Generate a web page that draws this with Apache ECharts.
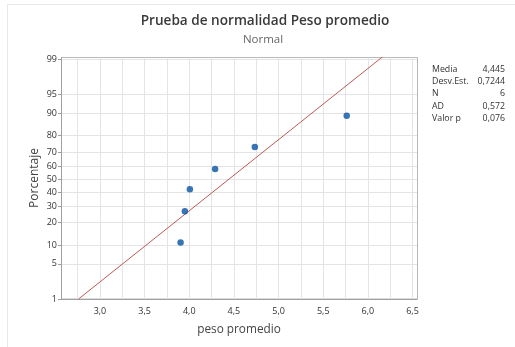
<!DOCTYPE html>
<html>
<head>
<meta charset="utf-8">
<script src="https://cdn.jsdelivr.net/npm/echarts@6/dist/echarts.min.js"></script>
<style>
  html, body { margin: 0; padding: 0; background: #fff; }
  #chart { width: 515px; height: 347px; }
</style>
</head>
<body>
<div id="chart"></div>
<script>
// values
const pesoPromedio = [3.903, 3.951, 4.007, 4.290, 4.734, 5.763];
const porcentaje = [10.9, 26.6, 42.2, 57.8, 73.4, 89.1];

// fitted line end points (x, percent)
const fitX = [2.760, 6.190];
const fitPct = [1, 99.2];

const xTickLabels = [3.0, 3.5, 4.0, 4.5, 5.0, 5.5, 6.0, 6.5];
const xGridValues = [2.75, 3.0, 3.25, 3.5, 3.75, 4.0, 4.25, 4.5, 4.75, 5.0, 5.25, 5.5, 5.75, 6.0, 6.25, 6.5];
const yTickPct = [1, 5, 10, 20, 30, 40, 50, 60, 70, 80, 90, 95, 99];

const statLabels = ['Media', 'Desv.Est.', 'N', 'AD', 'Valor p'];
const statValues = ['4,445', '0,7244', '6', '0,572', '0,076'];

// inverse normal cdf (Acklam) for the probability scale
function probit(p) {
  const a = [-3.969683028665376e+01, 2.209460984245205e+02, -2.759285104469687e+02, 1.383577518672690e+02, -3.066479806614716e+01, 2.506628277459239e+00];
  const b = [-5.447609879822406e+01, 1.615858368580409e+02, -1.556989798598866e+02, 6.680131188771972e+01, -1.328068155288572e+01];
  const c = [-7.784894002430293e-03, -3.223964580411365e-01, -2.400758277161838e+00, -2.549732539343734e+00, 4.374664141464968e+00, 2.938163982698783e+00];
  const d = [7.784695709041462e-03, 3.224671290700398e-01, 2.445134137142996e+00, 3.754408661907416e+00];
  const pl = 0.02425;
  let q, r;
  if (p < pl) {
    q = Math.sqrt(-2 * Math.log(p));
    return (((((c[0] * q + c[1]) * q + c[2]) * q + c[3]) * q + c[4]) * q + c[5]) / ((((d[0] * q + d[1]) * q + d[2]) * q + d[3]) * q + 1);
  } else if (p > 1 - pl) {
    q = Math.sqrt(-2 * Math.log(1 - p));
    return -(((((c[0] * q + c[1]) * q + c[2]) * q + c[3]) * q + c[4]) * q + c[5]) / ((((d[0] * q + d[1]) * q + d[2]) * q + d[3]) * q + 1);
  }
  q = p - 0.5;
  r = q * q;
  return (((((a[0] * r + a[1]) * r + a[2]) * r + a[3]) * r + a[4]) * r + a[5]) * q / (((((b[0] * r + b[1]) * r + b[2]) * r + b[3]) * r + b[4]) * r + 1);
}

const zOf = pct => probit(pct / 100);
const yTickZ = yTickPct.map(zOf);
const comma = v => v.toFixed(1).replace('.', ',');

const font = "'Open Sans', 'Noto Sans', sans-serif";

const chart = echarts.init(document.getElementById('chart'), null, { renderer: 'canvas' });

const statGraphics = [];
statLabels.forEach((lab, i) => {
  const y = 69.5 + i * 12.2;
  statGraphics.push({
    type: 'text', x: 432, y: y,
    style: { text: lab, fontFamily: font, fontSize: 8.8, fill: '#333', textAlign: 'left', textVerticalAlign: 'middle' },
  });
  statGraphics.push({
    type: 'text', x: 505, y: y,
    style: { text: statValues[i], fontFamily: font, fontSize: 8.8, fill: '#333', textAlign: 'right', textVerticalAlign: 'middle' },
  });
});

const option = {
  animation: false,
  backgroundColor: '#fff',
  grid: { left: 61, right: 98, top: 57.5, bottom: 48 },
  xAxis: {
    type: 'value',
    min: 2.564,
    max: 6.55,
    name: 'peso promedio',
    nameLocation: 'middle',
    nameGap: 25,
    nameTextStyle: { fontFamily: font, fontSize: 11.8, color: '#444' },
    axisLine: { show: true, onZero: false, lineStyle: { color: '#a0a0a0' } },
    axisTick: { show: false, customValues: xGridValues },
    axisLabel: {
      customValues: xTickLabels,
      formatter: v => comma(v),
      fontFamily: font, fontSize: 9, color: '#333', margin: 8,
    },
    splitLine: { show: true, lineStyle: { color: '#e4e4e4', width: 1 } },
  },
  yAxis: {
    type: 'value',
    min: zOf(1),
    max: 2.36,
    axisLine: { show: true, onZero: false, lineStyle: { color: '#a0a0a0' } },
    axisTick: { show: true, length: 3, customValues: yTickZ, lineStyle: { color: '#a0a0a0' } },
    axisLabel: {
      customValues: yTickZ,
      formatter: v => {
        let best = 0;
        yTickZ.forEach((z, i) => { if (Math.abs(z - v) < Math.abs(yTickZ[best] - v)) best = i; });
        return String(yTickPct[best]);
      },
      fontFamily: font, fontSize: 9, color: '#333', margin: 4,
    },
    splitLine: { show: true, lineStyle: { color: '#e4e4e4', width: 1 } },
  },
  graphic: [
    {
      type: 'rect', silent: true,
      shape: { x: 7.5, y: 4.5, width: 530, height: 360 },
      style: { fill: 'none', stroke: '#e8e8e8', lineWidth: 1 },
    },
    {
      type: 'rect', silent: true,
      shape: { x: 61.5, y: 57.5, width: 356, height: 241.5 },
      style: { fill: 'none', stroke: '#b8b8b8', lineWidth: 1 },
    },
    {
      type: 'text', x: 265, y: 21,
      style: { text: 'Prueba de normalidad Peso promedio', fontFamily: font, fontSize: 13.6, fontWeight: 600, fill: '#3a3a3a', textAlign: 'center', textVerticalAlign: 'middle' },
    },
    {
      type: 'text', x: 263, y: 39.5,
      style: { text: 'Normal', fontFamily: font, fontSize: 11.5, fill: '#666', textAlign: 'center', textVerticalAlign: 'middle' },
    },
    {
      type: 'text', x: 35, y: 178, rotation: Math.PI / 2,
      style: { text: 'Porcentaje', fontFamily: font, fontSize: 12, fill: '#444', textAlign: 'center', textVerticalAlign: 'middle' },
    },
  ].concat(statGraphics),
  series: [
    {
      type: 'line',
      data: fitX.map((x, i) => [x, zOf(fitPct[i])]),
      symbol: 'none',
      clip: true,
      lineStyle: { color: '#bb5a56', width: 1 },
      z: 2,
    },
    {
      type: 'scatter',
      data: pesoPromedio.map((x, i) => [x, zOf(porcentaje[i])]),
      symbol: 'circle',
      symbolSize: 6.5,
      itemStyle: { color: '#0652a2' },
      z: 3,
    },
  ],
};

chart.setOption(option);
</script>
</body>
</html>
